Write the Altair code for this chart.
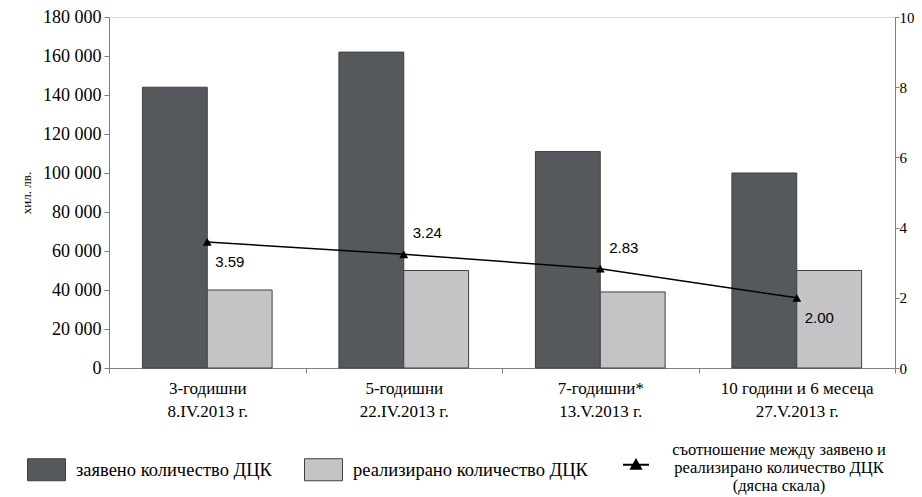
import altair as alt
import pandas as pd

categories = ["3-годишни|8.IV.2013 г.", "5-годишни|22.IV.2013 г.",
              "7-годишни*|13.V.2013 г.", "10 години и 6 месеца|27.V.2013 г."]
declared = [144000, 162000, 111000, 100000]
realized = [40000, 50000, 39000, 50000]
ratio = [3.59, 3.24, 2.83, 2.00]
ratio_labels = ["3.59", "3.24", "2.83", "2.00"]

s1 = "заявено количество ДЦК"
s2 = "реализирано количество ДЦК"
s3 = "съотношение между заявено и|реализирано количество ДЦК|(дясна скала)"

y_ticks = list(range(0, 180001, 20000))
y2_ticks = [0, 2, 4, 6, 8, 10]

bars_df = pd.DataFrame(
    [{"category": c, "series": s1, "value": v} for c, v in zip(categories, declared)]
    + [{"category": c, "series": s2, "value": v} for c, v in zip(categories, realized)]
)
line_df = pd.DataFrame({"category": categories, "ratio": ratio,
                        "label": ratio_labels, "s": [s3] * len(categories)})

SERIF = "Liberation Serif"
SANS = "Liberation Sans"
GRAY = "#808080"

x_enc = alt.X(
    "category:N", sort=categories,
    scale=alt.Scale(paddingInner=0, paddingOuter=0),
    axis=alt.Axis(title=None, labelAngle=0, labelExpr="split(datum.label, '|')",
                  tickBand="extent", labelFont=SERIF, labelFontSize=17,
                  labelLineHeight=23, labelPadding=7, labelColor="black",
                  domainColor=GRAY, tickColor=GRAY, tickSize=5, labelLimit=300),
)

bars = alt.Chart(bars_df).mark_bar(stroke="#404040", strokeWidth=1).encode(
    x=x_enc,
    xOffset=alt.XOffset("series:N", sort=[s1, s2],
                        scale=alt.Scale(paddingInner=0, paddingOuter=0.515)),
    y=alt.Y("value:Q", scale=alt.Scale(domain=[0, 180000]),
            axis=alt.Axis(values=y_ticks, title="хил. лв.", grid=False,
                          labelExpr="replace(format(datum.value, ','), ',', ' ')",
                          labelFont=SERIF, labelFontSize=18, labelColor="black",
                          titleFont=SERIF, titleFontSize=13, titleFontWeight="normal",
                          titleColor="black", titlePadding=9,
                          domainColor=GRAY, tickColor=GRAY, tickSize=5, labelPadding=3)),
    fill=alt.Fill("series:N", scale=alt.Scale(domain=[s1, s2], range=["#55595c", "#c4c4c6"]),
                  legend=alt.Legend(title=None, orient="none", legendX=-82, legendY=433,
                                    direction="horizontal",
                                    symbolType="M-1,-0.58H1V0.58H-1Z", symbolSize=1444,
                                    symbolStrokeColor="#404040", symbolStrokeWidth=1,
                                    labelFont=SERIF, labelFontSize=18.5, labelColor="black",
                                    labelOffset=10, columnPadding=30, labelLimit=400,
                                    padding=0)),
)

y2 = alt.Y("ratio:Q", scale=alt.Scale(domain=[0, 10]),
           axis=alt.Axis(orient="right", values=y2_ticks, title=None, grid=False,
                         labelFont=SERIF, labelFontSize=15, labelColor="black",
                         domainColor=GRAY, tickColor=GRAY, tickSize=4, labelPadding=0))

legend_path = "M-1,1.135H1M-0.38,1.435L0,0.775L0.38,1.435Z"
line = alt.Chart(line_df).mark_line(strokeWidth=1.5).encode(
    x=alt.X("category:N", sort=categories),
    y=y2,
    stroke=alt.Stroke("s:N", scale=alt.Scale(domain=[s3], range=["black"]),
                      legend=alt.Legend(title=None, orient="none", legendX=513, legendY=419,
                                        labelExpr="split(datum.label, '|')",
                                        labelAlign="center", labelOffset=129,
                                        labelFont=SERIF, labelFontSize=16.5, labelColor="black",
                                        labelLimit=400, padding=0,
                                        symbolType=legend_path, symbolSize=676,
                                        symbolFillColor="black", symbolStrokeColor="black",
                                        symbolStrokeWidth=2)),
)

points = alt.Chart(line_df).mark_point(shape="triangle-up", filled=True, color="black",
                                       size=80, opacity=1).encode(
    x=alt.X("category:N", sort=categories), y=alt.Y("ratio:Q"))

below = [categories[0], categories[3]]
text_below = alt.Chart(line_df).transform_filter(
    alt.FieldOneOfPredicate(field="category", oneOf=below)
).mark_text(align="left", baseline="middle", dx=8, dy=20, font=SANS, fontSize=15,
            color="black").encode(
    x=alt.X("category:N", sort=categories), y=alt.Y("ratio:Q"), text="label:N")

text_above = alt.Chart(line_df).transform_filter(
    ~alt.FieldOneOfPredicate(field="category", oneOf=below)
).mark_text(align="left", baseline="middle", dx=9, dy=-21, font=SANS, fontSize=15,
            color="black").encode(
    x=alt.X("category:N", sort=categories), y=alt.Y("ratio:Q"), text="label:N")

right = alt.layer(line, points, text_below, text_above)

chart = alt.layer(bars, right).resolve_scale(y="independent").properties(
    width=786, height=351,
    padding={"left": 101, "top": 9, "right": 19, "bottom": 129},
    autosize=alt.AutoSizeParams(type="none"),
).configure_view(stroke=GRAY).configure(
    background="white",
    style={"guide-label": {"lineHeight": 18}},
)

chart.save("out.html", embed_options={"renderer": "svg", "actions": False})
